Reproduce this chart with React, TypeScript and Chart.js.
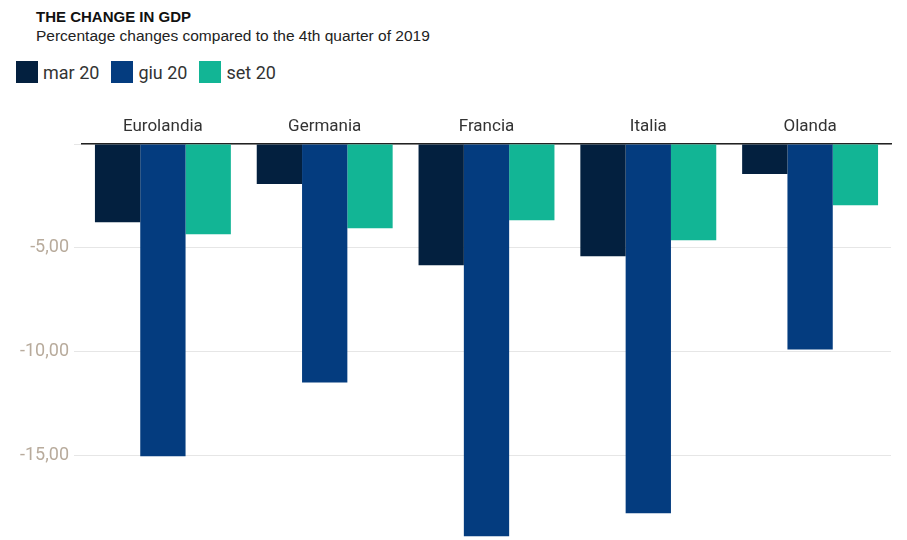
import React, { useEffect, useRef } from "react";
import { Chart, registerables } from "chart.js";
Chart.register(...registerables);

const categories = ["Eurolandia", "Germania", "Francia", "Italia", "Olanda"];
const mar20 = [-3.77, -1.93, -5.85, -5.41, -1.45];
const giu20 = [-15.05, -11.5, -18.9, -17.8, -9.9];
const set20 = [-4.35, -4.06, -3.67, -4.64, -2.95];
const seriesNames = ["mar 20", "giu 20", "set 20"];
const colors = ["#03203f", "#043c7f", "#12b595"];

export default function App() {
  const ref = useRef<HTMLCanvasElement>(null);
  useEffect(() => {
    const chart = new Chart(ref.current!, {
      type: "bar",
      data: {
        labels: categories,
        datasets: [mar20, giu20, set20].map((d, i) => ({
          label: seriesNames[i], data: d, backgroundColor: colors[i],
          categoryPercentage: 0.84, barPercentage: 1,
        })),
      },
      options: {
        animation: false, responsive: false, maintainAspectRatio: false,
        layout: { padding: { right: 16, top: 0, bottom: 0 } },
        plugins: { legend: { display: false }, tooltip: { enabled: false } },
        scales: {
          x: {
            position: "top",
            grid: { display: false },
            border: { color: "#222", width: 1.5 },
            ticks: { color: "#333", font: { family: "Roboto", size: 17 }, padding: -1 },
            afterFit: (s: any) => { s.height = 44; },
          },
          y: {
            min: -19, max: 0,
            grid: { color: (c: any) => (c.tick && c.tick.value % 5 !== 0 ? "rgba(0,0,0,0)" : "#e6e6e6") },
            border: { display: false },
            ticks: {
              stepSize: 5, color: "#b8ab9c", padding: 5,
              font: { family: "Roboto", size: 18 },
              callback: (v: any) => (v === 0 || v % 5 !== 0 ? "" : v.toFixed(2).replace(".", ",")),
            },
            afterFit: (s: any) => { s.width = 82; },
          },
        },
      },
    });
    return () => chart.destroy();
  }, []);
  return (
    <div style={{ position: "absolute", left: 0, top: 0, width: 907, height: 540, background: "#fff", fontFamily: "Arial, 'Liberation Sans', sans-serif", overflow: "hidden" }}>
      <div style={{ position: "absolute", left: 36, top: 8, fontWeight: "bold", fontSize: 15, color: "#111" }}>THE CHANGE IN GDP</div>
      <div style={{ position: "absolute", left: 36, top: 27, fontSize: 15.5, color: "#222" }}>Percentage changes compared to the 4th quarter of 2019</div>
      <div style={{ position: "absolute", left: 16, top: 61, display: "flex", alignItems: "center", fontFamily: "Roboto", fontSize: 18, color: "#333" }}>
        {seriesNames.map((n, i) => (
          <div key={n} style={{ display: "flex", alignItems: "center", marginRight: 12 }}>
            <span style={{ width: 22, height: 22, background: colors[i], display: "inline-block", marginRight: 5 }} />
            {n}
          </div>
        ))}
      </div>
      <canvas ref={ref} width={907} height={454} style={{ position: "absolute", left: 0, top: 100, width: 907, height: 454 }} />
    </div>
  );
}
